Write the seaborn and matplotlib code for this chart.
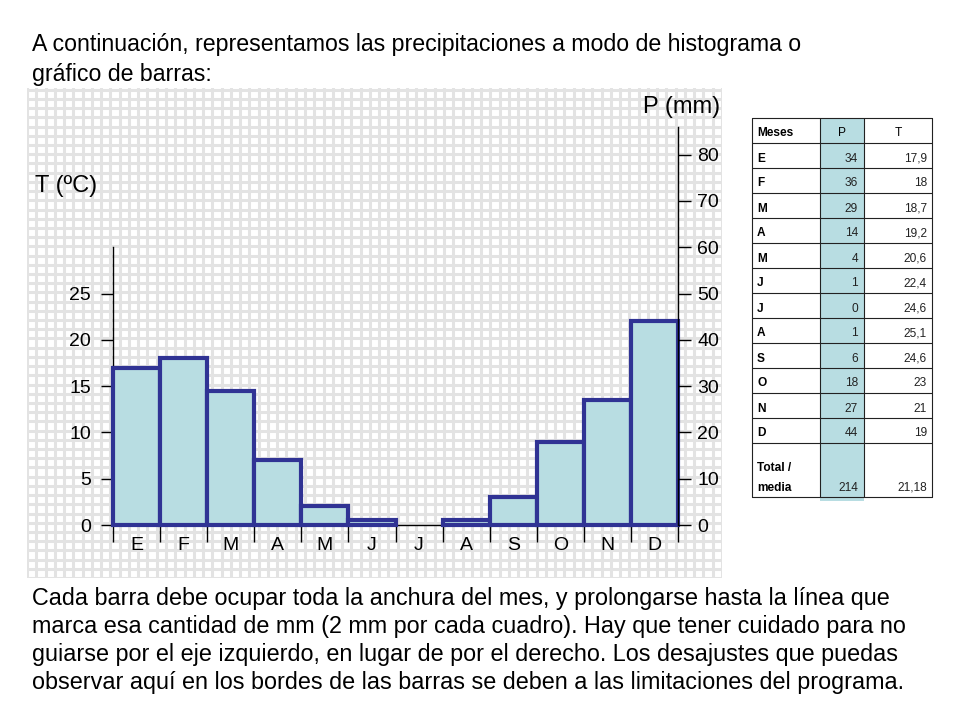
import numpy as np
import pandas as pd
import matplotlib
matplotlib.use("Agg")
import matplotlib.pyplot as plt
import seaborn as sns

# ---------------- data ----------------
months = ['E', 'F', 'M', 'A', 'M', 'J', 'J', 'A', 'S', 'O', 'N', 'D']
precip_mm = [34, 36, 29, 14, 4, 1, 0, 1, 6, 18, 27, 44]
temp_c = [17.9, 18, 18.7, 19.2, 20.6, 22.4, 24.6, 25.1, 24.6, 23, 21, 19]
p_ticks = [0, 10, 20, 30, 40, 50, 60, 70, 80]
t_ticks = [0, 5, 10, 15, 20, 25]

title_lines = ["A continuación, representamos las precipitaciones a modo de histograma o",
               "gráfico de barras:"]
note_lines = ["Cada barra debe ocupar toda la anchura del mes, y prolongarse hasta la línea que",
              "marca esa cantidad de mm (2 mm por cada cuadro). Hay que tener cuidado para no",
              "guiarse por el eje izquierdo, en lugar de por el derecho. Los desajustes que puedas",
              "observar aquí en los bordes de las barras se deben a las limitaciones del programa."]

sns.set_theme(style="white")
plt.rcParams['font.family'] = ['Liberation Sans', 'DejaVu Sans']
plt.rcParams['text.color'] = 'black'

W, H = 960, 720
fig = plt.figure(figsize=(9.6, 7.2), dpi=100)
fig.patch.set_facecolor('white')


def px_rect(x0, y0, x1, y1):
    return [x0 / W, 1 - y1 / H, (x1 - x0) / W, (y1 - y0) / H]


GX0, GY0, GX1, GY1 = 27, 88, 722, 578
BAR_L, BAR_R, BASE = 113, 678, 525
PX_PER_MONTH = (BAR_R - BAR_L) / 12
PX_PER_MM = 4.63
xlim = (-0.5 - (BAR_L - GX0) / PX_PER_MONTH, 11.5 + (GX1 - BAR_R) / PX_PER_MONTH)
ylim = (-(GY1 - BASE) / PX_PER_MM, (BASE - GY0) / PX_PER_MM)

# ---------------- background grid (2 mm per square) ----------------
ax_bg = fig.add_axes(px_rect(GX0, GY0, GX1, GY1))
ax_bg.set_xlim(xlim)
ax_bg.set_ylim(ylim)
ax_bg.set_xticks(np.arange(-2.5, 12.7, 0.2))
ax_bg.set_yticks(np.arange(-12, 96, 2))
ax_bg.grid(True, color='#e3e3e3', lw=2.2)
ax_bg.tick_params(length=0, labelbottom=False, labelleft=False)
for s in ax_bg.spines.values():
    s.set_visible(False)
ax_bg.set_facecolor('white')

# ---------------- bars ----------------
ax = fig.add_axes(px_rect(GX0, GY0, GX1, GY1))
ax.set_facecolor('none')
df = pd.DataFrame({'mes': list(range(len(months))), 'P': precip_mm})
sns.barplot(data=df, x='mes', y='P', ax=ax, color='#b8dde2', saturation=1,
            width=1.0, edgecolor='#303394', linewidth=3.0, errorbar=None, zorder=3)
for p in ax.patches:
    if p.get_height() == 0:
        p.set_linewidth(0)
ax.set_xlabel('')
ax.set_ylabel('')
ax.set_xlim(xlim)
ax.set_ylim(ylim)

ax.set_xticks(range(len(months)))
ax.set_xticklabels(months)
ax.set_xticks(np.arange(-0.5, len(months), 1), minor=True)
ax.tick_params(axis='x', which='major', bottom=True, length=0, pad=9, labelsize=14, labelcolor='black')
ax.tick_params(axis='x', which='minor', bottom=True, length=12, width=1, direction='out', color='black')
ax.spines['bottom'].set_position(('data', 0))
ax.spines['bottom'].set_bounds(-0.5, 11.5)
ax.spines['bottom'].set_color('black')
ax.spines['bottom'].set_linewidth(1)
ax.spines['left'].set_position(('data', -0.5))
ax.spines['left'].set_bounds(0, 60)
ax.spines['left'].set_color('black')
ax.spines['left'].set_linewidth(1)
ax.spines['top'].set_visible(False)
ax.spines['right'].set_visible(False)
ax.set_yticks([2 * t for t in t_ticks])
ax.set_yticklabels([str(t) for t in t_ticks])
ax.tick_params(axis='y', left=True, length=9, width=1, pad=7, labelsize=14,
               direction='out', color='black', labelcolor='black')

ax2 = ax.twinx()
ax2.set_ylim(ylim)
ax2.set_xlim(xlim)
for k in ['left', 'top', 'bottom']:
    ax2.spines[k].set_visible(False)
ax2.spines['right'].set_position(('data', 11.5))
ax2.spines['right'].set_bounds(0, 86)
ax2.spines['right'].set_color('black')
ax2.spines['right'].set_linewidth(1)
ax2.set_yticks(p_ticks)
ax2.set_yticklabels([str(v) for v in p_ticks])
ax2.tick_params(axis='y', right=True, length=9, width=1, pad=5, labelsize=14,
                direction='out', color='black', labelcolor='black')
ax2.grid(False)

fig.text(35 / W, 1 - 186 / H, 'T (ºC)', fontsize=17, va='center', ha='left', color='black')
fig.text(720 / W, 1 - 107 / H, 'P (mm)', fontsize=17, va='center', ha='right', color='black')

# ---------------- texts ----------------
for i, line in enumerate(title_lines):
    fig.text(32 / W, 1 - (45 + 30 * i) / H, line, fontsize=16.7, va='center', ha='left', color='black')
for i, line in enumerate(note_lines):
    fig.text(32 / W, 1 - (599 + 28 * i) / H, line, fontsize=16.8, va='center', ha='left', color='black')

# ---------------- data table ----------------
TX0, TY0, TX1, TY1 = 752, 118, 933, 497
ax_t = fig.add_axes(px_rect(TX0, TY0, TX1, TY1 + 4))
ax_t.set_xlim(TX0, TX1)
ax_t.set_ylim(TY1 + 4, TY0)
ax_t.axis('off')
col_x = [752, 820, 864, 932]
row_h = 25
rows_y = [TY0 + row_h * i for i in range(len(months) + 2)] + [TY1]
ax_t.add_patch(plt.Rectangle((col_x[1], TY0), col_x[2] - col_x[1], TY1 + 4 - TY0,
                             facecolor='#b8dde2', edgecolor='none', zorder=1))
for y in rows_y:
    ax_t.plot([col_x[0], col_x[-1]], [y, y], color='#222222', lw=0.8, zorder=2, clip_on=False)
for x in col_x:
    ax_t.plot([x, x], [TY0, TY1], color='#222222', lw=0.8, zorder=2, clip_on=False)

fs = 8.6
dy = 3
ax_t.text(757, TY0 + row_h / 2 + dy, 'Meses', fontsize=fs, fontweight='bold', va='center', ha='left')
ax_t.text((col_x[1] + col_x[2]) / 2, TY0 + row_h / 2 + dy, 'P', fontsize=fs, va='center', ha='center')
ax_t.text((col_x[2] + col_x[3]) / 2, TY0 + row_h / 2 + dy, 'T', fontsize=fs, va='center', ha='center')


def fmt(v):
    return f'{v:g}'.replace('.', ',')


for i, (m, p, t) in enumerate(zip(months, precip_mm, temp_c)):
    yc = TY0 + row_h * (i + 1) + row_h / 2 + dy
    ax_t.text(757, yc, m, fontsize=fs, fontweight='bold', va='center', ha='left')
    ax_t.text(col_x[2] - 6, yc, str(p), fontsize=fs, va='center', ha='right', color='#222222')
    ax_t.text(col_x[3] - 5, yc, fmt(t), fontsize=fs, va='center', ha='right', color='#222222')

ytot = rows_y[-2]
ax_t.text(757, ytot + 25, 'Total /', fontsize=fs, fontweight='bold', va='center', ha='left')
ax_t.text(757, ytot + 45, 'media', fontsize=fs, fontweight='bold', va='center', ha='left')
ax_t.text(col_x[2] - 6, ytot + 45, str(sum(precip_mm)), fontsize=fs, va='center', ha='right', color='#222222')
ax_t.text(col_x[3] - 5, ytot + 45, f'{np.mean(temp_c):.2f}'.replace('.', ','), fontsize=fs,
          va='center', ha='right', color='#222222')

fig.savefig('out.png', dpi=100, facecolor='white')
